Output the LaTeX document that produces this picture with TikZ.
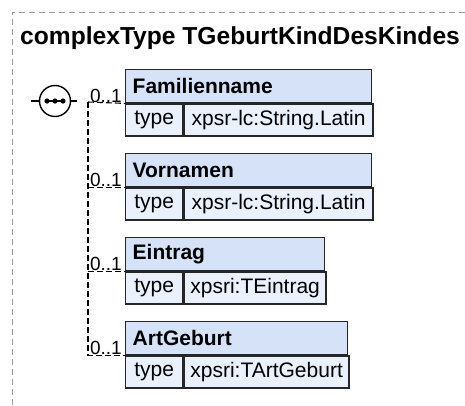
\documentclass[tikz,border=0pt]{standalone}
\usepackage{fontspec}
\setmainfont{Liberation Sans}
\usetikzlibrary{positioning}
\definecolor{hdrblue}{HTML}{D6E2F8}
\definecolor{rowblue}{HTML}{EAF0FC}
\definecolor{framegray}{HTML}{9A9A9A}

\begin{document}
\begin{tikzpicture}[
    x=1pt,y=-1pt,
    elem/.style={draw=black!85,line width=1.4pt,fill=hdrblue,anchor=north west,
                 minimum height=33pt,text width=#1,inner xsep=7pt,inner ysep=0pt,
                 font=\fontsize{21}{24}\selectfont\bfseries},
    typecell/.style={draw=black!85,line width=1.4pt,fill=rowblue,anchor=north west,
                     minimum height=32pt,minimum width=57pt,inner sep=0pt,
                     font=\fontsize{21}{24}\selectfont},
    valcell/.style={typecell,minimum width=#1},
    card/.style={anchor=south east,inner sep=1pt,font=\fontsize{19}{21}\selectfont},
    link/.style={line width=1.1pt,dash pattern=on 6pt off 3pt}
]
\useasboundingbox (0,0) rectangle (465,405);
\draw[framegray,line width=1pt,dash pattern=on 6pt off 4pt] (12,405) -- (12,12) -- (465,12);

\node[anchor=base west,inner sep=0pt,font=\fontsize{24.6}{28}\selectfont\bfseries]
    (title) at (20,44) {complexType TGeburtKindDesKindes};

% sequence
\node[circle,draw,line width=1.4pt,fill=white,minimum size=31pt,inner sep=0pt] (seq) at (55,101) {};
\draw[line width=1.4pt] ([xshift=-9pt]seq.center) -- ([xshift=9pt]seq.center);
\foreach \dx in {-8,0,8}
    \fill ([xshift=\dx pt]seq.center) circle (2.6pt);
\draw[line width=1.4pt] (seq.west) -- ++(-8,0);
\draw[line width=1.4pt] (seq.east) -- ++(6,0);

% elements
\node[elem=232pt] (fam) at (125,69) {Familienname};
\node[typecell] (famt) at (fam.south west) {type};
\node[valcell=189pt] (famv) at (famt.north east) {xpsr-lc:String.Latin};

\node[elem=232pt] (vor) at (125,153) {Vornamen};
\node[typecell] (vort) at (vor.south west) {type};
\node[valcell=189pt] (vorv) at (vort.north east) {xpsr-lc:String.Latin};

\node[elem=185pt] (ein) at (125,237) {Eintrag};
\node[typecell] (eint) at (ein.south west) {type};
\node[valcell=142pt] (einv) at (eint.north east) {xpsri:TEintrag};

\node[elem=208pt] (art) at (125,321) {ArtGeburt};
\node[typecell] (artt) at (art.south west) {type};
\node[valcell=165pt] (artv) at (artt.north east) {xpsri:TArtGeburt};

% tree
\coordinate (branch) at (88,102);
\draw[link] (branch) -- (fam.south west);
\draw[link] (branch) |- (art.south west);
\draw[link] (branch |- vor.south west) -- (vor.south west);
\draw[link] (branch |- ein.south west) -- (ein.south west);

\node[card] (famc) at ([xshift=-2pt]fam.south west) {0..1};
\node[card] (vorc) at ([xshift=-2pt]vor.south west) {0..1};
\node[card] (einc) at ([xshift=-2pt]ein.south west) {0..1};
\node[card] (artc) at ([xshift=-2pt]art.south west) {0..1};
\end{tikzpicture}
\end{document}
